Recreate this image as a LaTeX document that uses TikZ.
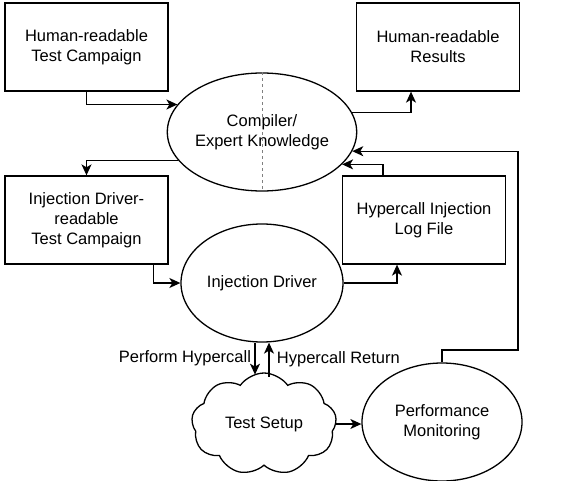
\documentclass[tikz,border=0pt]{standalone}
\usepackage{fontspec}
\setmainfont{Liberation Sans}
\usetikzlibrary{shapes.geometric,shapes.symbols,arrows.meta}

\begin{document}
\begin{tikzpicture}[x=1pt, y=-1pt,
    font=\fontsize{16.5}{20}\selectfont,
    box/.style={draw, line width=1.3pt, minimum width=163pt, minimum height=88pt, align=center, inner sep=0pt},
    proc/.style={draw, ellipse, line width=1.3pt, minimum width=162pt, minimum height=118pt, align=center, inner sep=0pt},
    flow/.style={line width=1.3pt, -{Stealth[length=11pt,width=10pt,inset=3pt]}}]
            \useasboundingbox (0,0) rectangle (573,481);

            \node[box] (htc) at (86.5,47) {Human-readable\\Test Campaign};
            \node[box] (hres) at (438,47) {Human-readable\\Results};
            \node[proc] (comp) at (262,132) {Compiler/\\Expert Knowledge};
            \node[box] (idtc) at (86.5,220) {Injection Driver-\\readable\\Test Campaign};
            \node[box] (log) at (424,220) {Hypercall Injection\\Log File};
            \node[proc] (drv) at (262,283) {Injection Driver};
            \node[cloud, draw, line width=1.3pt, cloud puffs=9, cloud puff arc=110, aspect=1.4, minimum width=145pt, minimum height=102pt, inner sep=0pt] (setup) at (264,424) {Test Setup};
            \node[proc, minimum width=160pt] (perf) at (442,422) {Performance\\Monitoring};
            \coordinate (fb) at (518,350);

            \draw[dashed, gray, line width=0.9pt] (comp.north) -- (comp.south);

            \draw[flow] (htc.south) |- (comp.162);
            \draw[flow] (comp.12) -| ([xshift=-27pt]hres.south);
            \draw[flow] (comp.199) -| (idtc.north);
            \draw[flow] ([xshift=-41pt]log.north) |- (comp.-22);
            \draw[flow] (perf.north) |- (fb) |- (comp.-12);
            \draw[flow] ([xshift=67pt]idtc.south) |- (drv.west);
            \draw[flow] (drv.east) -| ([xshift=-27pt]log.south);
            \draw[flow] ([xshift=-7pt]drv.south) -- ++(0,32) node[midway, left] {Perform Hypercall};
            \draw[flow] ([xshift=7pt]drv.south) ++(0,34) -- ++(0,-34) node[midway, right, xshift=4pt] {Hypercall Return};
            \draw[flow] (setup.east) -- (setup.east -| perf.west);
        \end{tikzpicture}
\end{document}
